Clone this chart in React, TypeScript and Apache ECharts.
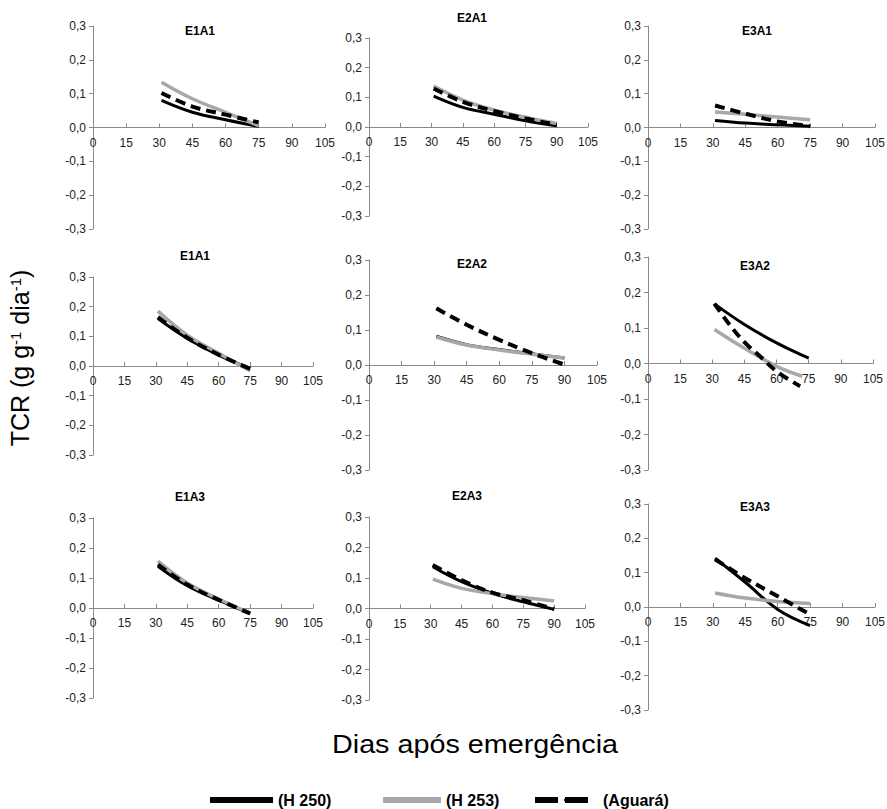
import React, { useEffect, useRef } from 'react';
import * as echarts from 'echarts';

// ---------- data ----------
const days75 = [31, 45, 60, 75];
const days90 = [31, 45, 60, 75, 90];
const days72 = [31, 45, 60, 72];
const daysE3A2Agua = [31, 38, 45, 52, 60, 71];

const panelTitles = ['E1A1', 'E2A1', 'E3A1', 'E1A1', 'E2A2', 'E3A2', 'E1A3', 'E2A3', 'E3A3'];
const seriesNames = ['(H 250)', '(H 253)', '(Aguará)'];
const xMin = 0, xMax = 105, xStep = 15;
const yMin = -0.3, yMax = 0.3, yStep = 0.1;

// panel 1 – E1A1 (top)
const p1H250 = [0.080, 0.045, 0.023, 0.003];
const p1H253 = [0.134, 0.085, 0.045, 0.005];
const p1Agua = [0.102, 0.062, 0.038, 0.015];
// panel 2 – E2A1
const p2H250 = [0.104, 0.066, 0.043, 0.021, 0.004];
const p2H253 = [0.138, 0.091, 0.057, 0.033, 0.012];
const p2Agua = [0.130, 0.085, 0.054, 0.029, 0.007];
// panel 3 – E3A1
const p3H250 = [0.021, 0.013, 0.008, 0.004];
const p3H253 = [0.046, 0.039, 0.031, 0.023];
const p3Agua = [0.065, 0.041, 0.018, 0.004];
// panel 4 – E1A1 (middle)
const p4H250 = [0.160, 0.093, 0.037, -0.008];
const p4H253 = [0.185, 0.104, 0.043, -0.016];
const p4Agua = [0.165, 0.095, 0.038, -0.010];
// panel 5 – E2A2
const p5H250 = [0.082, 0.058, 0.044, 0.032, 0.020];
const p5H253 = [0.080, 0.057, 0.043, 0.031, 0.020];
const p5Agua = [0.162, 0.115, 0.072, 0.034, 0.001];
// panel 6 – E3A2
const p6H250 = [0.168, 0.110, 0.058, 0.015];
const p6H253 = [0.096, 0.043, -0.008, -0.036];
const p6Agua = [0.169, 0.110, 0.060, 0.022, -0.022, -0.064];
// panel 7 – E1A3
const p7H250 = [0.139, 0.074, 0.026, -0.019];
const p7H253 = [0.156, 0.083, 0.030, -0.017];
const p7Agua = [0.145, 0.078, 0.027, -0.018];
// panel 8 – E2A3
const p8H250 = [0.137, 0.088, 0.050, 0.022, -0.003];
const p8H253 = [0.096, 0.066, 0.049, 0.036, 0.025];
const p8Agua = [0.143, 0.093, 0.052, 0.027, -0.002];
// panel 9 – E3A3
const p9H250 = [0.142, 0.072, -0.007, -0.054];
const p9H253 = [0.041, 0.026, 0.016, 0.010];
const p9Agua = [0.139, 0.084, 0.031, -0.022];

// [xs, values] for H250, H253, Aguará in each panel
const panelData: [number[], number[]][][] = [
  [[days75, p1H250], [days75, p1H253], [days75, p1Agua]],
  [[days90, p2H250], [days90, p2H253], [days90, p2Agua]],
  [[days75, p3H250], [days75, p3H253], [days75, p3Agua]],
  [[days75, p4H250], [days75, p4H253], [days75, p4Agua]],
  [[days90, p5H250], [days90, p5H253], [days90, p5Agua]],
  [[days75, p6H250], [days72, p6H253], [daysE3A2Agua, p6Agua]],
  [[days75, p7H250], [days75, p7H253], [days75, p7Agua]],
  [[days90, p8H250], [days90, p8H253], [days90, p8Agua]],
  [[days75, p9H250], [days75, p9H253], [days75, p9Agua]],
];

// ---------- layout (pixel boxes of each plot) ----------
const LAYOUT = [
  { l: 93, r: 325, t: 26, b: 229, tx: 200, ty: 32 },
  { l: 369, r: 588, t: 38, b: 216, tx: 472, ty: 19 },
  { l: 648, r: 875, t: 26, b: 229, tx: 757, ty: 32 },
  { l: 93, r: 313, t: 277, b: 455, tx: 195, ty: 257 },
  { l: 369, r: 597, t: 260, b: 470, tx: 472, ty: 265 },
  { l: 648, r: 873, t: 257, b: 470, tx: 755, ty: 267 },
  { l: 93, r: 313, t: 518, b: 698, tx: 190, ty: 498 },
  { l: 369, r: 585, t: 517, b: 700, tx: 467, ty: 497 },
  { l: 648, r: 875, t: 504, b: 710, tx: 755, ty: 508 },
];

const FONT = '"Liberation Sans", Arial, sans-serif';
const AXIS_COLOR = '#8a8a8a';
const LABEL_COLOR = '#222';

const seriesStyles = [
  { color: '#000000', width: 3, type: 'solid' as any },
  { color: '#a8a8a8', width: 3.5, type: 'solid' as any },
  { color: '#000000', width: 4, type: [10, 6] as any },
];
const drawOrder = [1, 0, 2];

export default function App() {
  const ref = useRef<HTMLDivElement>(null);
  useEffect(() => {
    if (!ref.current) return;
    const chart = echarts.init(ref.current, undefined, { renderer: 'svg' });

    const grid = LAYOUT.map((g) => ({
      left: g.l, top: g.t, width: g.r - g.l, height: g.b - g.t,
      containLabel: false, outerBoundsMode: 'none',
    }));
    // x axis sits on the zero line (middle of the symmetric y range)
    const xAxis = LAYOUT.map((g, i) => ({
      type: 'value', gridIndex: i, min: xMin, max: xMax, interval: xStep,
      position: 'bottom', offset: -(g.b - g.t) / 2,
      axisLine: { onZero: false, lineStyle: { color: AXIS_COLOR, width: 1 } },
      axisTick: { show: true, inside: true, length: 4, lineStyle: { color: AXIS_COLOR } },
      axisLabel: { color: LABEL_COLOR, fontSize: 12, fontFamily: FONT, margin: 9 },
      splitLine: { show: false },
    }));
    const yAxis = LAYOUT.map((_, i) => ({
      type: 'value', gridIndex: i, min: yMin, max: yMax, interval: yStep,
      position: 'left',
      axisLine: { show: true, onZero: false, lineStyle: { color: AXIS_COLOR, width: 1 } },
      axisTick: { show: true, inside: false, length: 4, lineStyle: { color: AXIS_COLOR } },
      axisLabel: {
        color: LABEL_COLOR, fontSize: 12, fontFamily: FONT, margin: 7,
        formatter: (v: number) => v.toFixed(1).replace('.', ',').replace('-0,0', '0,0'),
      },
      splitLine: { show: false },
    }));

    const series: any[] = [];
    panelData.forEach((panel, pi) => {
      drawOrder.forEach((si) => {
        const [xs, vals] = panel[si];
        const st = seriesStyles[si];
        series.push({
          type: 'line', name: seriesNames[si], xAxisIndex: pi, yAxisIndex: pi,
          data: xs.map((x, k) => [x, vals[k]]),
          smooth: 0.4, symbol: 'none', showSymbol: false,
          lineStyle: { color: st.color, width: st.width, type: st.type, cap: 'butt' },
          itemStyle: { color: st.color },
          z: 2 + si,
          silent: true,
        });
      });
    });

    const title = LAYOUT.map((g, i) => ({
      text: panelTitles[i], left: g.tx, top: g.ty - 7, textAlign: 'center', padding: 0,
      textStyle: { fontSize: 12, fontWeight: 'bold', fontFamily: FONT, color: '#000' },
    }));

    const legendBase = {
      orient: 'horizontal', top: 792, padding: 0, itemHeight: 6, selectedMode: false,
      textStyle: { fontSize: 16, fontWeight: 'bold', fontFamily: FONT, color: '#000' },
    };
    const legend = [
      { ...legendBase, left: 207, itemWidth: 63, data: [seriesNames[0]], lineStyle: { width: 6, color: '#000', type: 'solid' } },
      { ...legendBase, left: 380, itemWidth: 58, data: [seriesNames[1]], lineStyle: { width: 6, color: '#a8a8a8', type: 'solid' } },
      { ...legendBase, left: 532, itemWidth: 63, data: [seriesNames[2]], lineStyle: { width: 6, color: '#000', type: [23, 7, 23, 10] } },
    ];

    chart.setOption({
      animation: false,
      backgroundColor: '#ffffff',
      title, grid, xAxis, yAxis, series, legend,
      graphic: [
        {
          type: 'text', x: 20, y: 358, rotation: Math.PI / 2,
          style: {
            text: '{a|TCR (g g}{s|-1}{a| dia}{s|-1}{a|)}',
            align: 'center', verticalAlign: 'middle', textAlign: 'center', textVerticalAlign: 'middle',
            fill: '#000',
            rich: {
              a: { fontSize: 25, fontFamily: FONT, fill: '#000', color: '#000' },
              s: { fontSize: 15, fontFamily: FONT, fill: '#000', color: '#000', verticalAlign: 'top' },
            },
          },
        },
        {
          type: 'text', x: 475, y: 745, scaleX: 1.15,
          style: {
            text: 'Dias após emergência', fontSize: 25, fontFamily: FONT, fill: '#000',
            align: 'center', verticalAlign: 'middle', textAlign: 'center', textVerticalAlign: 'middle',
          },
        },
      ],
    });
    return () => chart.dispose();
  }, []);

  return (
    <div
      ref={ref}
      style={{ position: 'absolute', left: 0, top: 0, width: 887, height: 809, background: '#fff' }}
    />
  );
}
